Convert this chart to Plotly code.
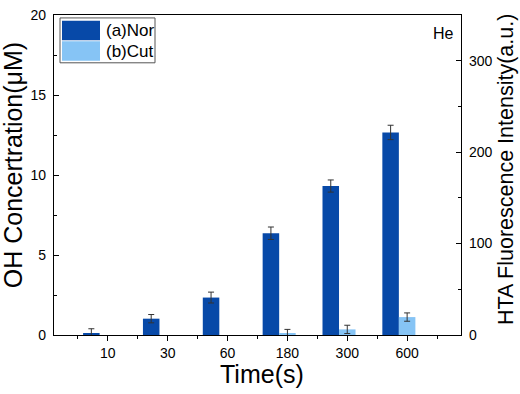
import plotly.graph_objects as go

# ---- data ----
categories = ["10", "30", "60", "180", "300", "600"]
nor_values = [0.12, 1.02, 2.34, 6.36, 9.31, 12.66]
nor_errors = [0.27, 0.26, 0.34, 0.39, 0.38, 0.45]
cut_values = [None, None, None, 0.10, 0.35, 1.12]
cut_errors = [None, None, None, 0.25, 0.26, 0.26]
series_names = ["(a)Nor", "(b)Cut"]

NOR_COLOR = "#0749A8"
CUT_COLOR = "#86C4F5"
FONT = "Liberation Sans, Arial, sans-serif"

positions = list(range(1, len(categories) + 1))

W, H = 520, 394
L, R, T, B = 54, 461, 7, 335  # plot area in pixels


def px(x):
    return (x - L) / (R - L)


def py(y):
    return (B - y) / (B - T)


fig = go.Figure()
fig.add_trace(go.Bar(
    x=positions, y=nor_values, name=series_names[0],
    width=0.276, offset=-0.414,
    marker=dict(color=NOR_COLOR, line=dict(width=0)),
    error_y=dict(type="data", array=nor_errors, color="#333333", thickness=1, width=3),
    showlegend=False,
))
fig.add_trace(go.Bar(
    x=positions, y=cut_values, name=series_names[1],
    width=0.276, offset=-0.138,
    marker=dict(color=CUT_COLOR, line=dict(width=0)),
    error_y=dict(type="data", array=cut_errors, color="#333333", thickness=1, width=3),
    showlegend=False,
))
# invisible trace to anchor the right axis
fig.add_trace(go.Scatter(x=[positions[0]], y=[0], yaxis="y2", mode="markers",
                         marker=dict(opacity=0), showlegend=False, hoverinfo="skip"))

axis_common = dict(showline=True, linecolor="black", linewidth=1.2, showgrid=False,
                   zeroline=False, tickcolor="black", ticklabeloverflow="allow",
                   tickfont=dict(family=FONT, size=14, color="black"))

fig.update_layout(
    width=W, height=H,
    margin=dict(l=L, r=W - R, t=T, b=H - B),
    paper_bgcolor="white", plot_bgcolor="white",
    barmode="overlay",
    font=dict(family=FONT, color="black"),
    xaxis=dict(**axis_common, range=[0.1, 6.9], tickmode="array",
               tickvals=positions, ticktext=categories,
               ticks="outside", ticklen=5, mirror=True,
               minor=dict(tickmode="linear", tick0=0.5, dtick=1, ticks="outside",
                          ticklen=3, tickcolor="black")),
    yaxis=dict(**axis_common, range=[0, 20], dtick=5, ticks="inside", ticklen=5,
               ticklabelstandoff=4,
               minor=dict(dtick=2.5, ticks="inside", ticklen=3, tickcolor="black")),
    yaxis2=dict(**axis_common, overlaying="y", side="right", range=[0, 350],
                dtick=100, ticks="inside", ticklen=5, ticklabelstandoff=4,
                minor=dict(dtick=50, ticks="inside", ticklen=3, tickcolor="black")),
)

# axis titles
fig.add_annotation(text="OH Concertration(μM)", xref="paper", yref="paper",
                   x=px(13), y=py(161), textangle=-90, showarrow=False,
                   font=dict(family=FONT, size=25, color="black"),
                   xanchor="center", yanchor="middle")
fig.add_annotation(text="HTA Fluorescence Intensity(a.u.)", xref="paper", yref="paper",
                   x=px(506), y=py(166), textangle=-90, showarrow=False,
                   font=dict(family=FONT, size=21.5, color="black"),
                   xanchor="center", yanchor="middle")
fig.add_annotation(text="Time(s)", xref="paper", yref="paper",
                   x=px(262), y=py(375), showarrow=False,
                   font=dict(family=FONT, size=25, color="black"),
                   xanchor="center", yanchor="middle")
fig.add_annotation(text="He", xref="paper", yref="paper",
                   x=px(443), y=py(26), showarrow=False,
                   font=dict(family=FONT, size=16, color="black"),
                   xanchor="center", yanchor="middle")

# custom legend
fig.add_shape(type="rect", xref="paper", yref="paper",
              x0=px(60), x1=px(155), y0=py(10), y1=py(56),
              line=dict(color="#555555", width=1), fillcolor="white", layer="above")
for i, (name, color) in enumerate(zip(series_names, [NOR_COLOR, CUT_COLOR])):
    y0 = 13 + i * 21
    fig.add_shape(type="rect", xref="paper", yref="paper",
                  x0=px(62), x1=px(100), y0=py(y0), y1=py(y0 + 20),
                  line=dict(width=0), fillcolor=color, layer="above")
    fig.add_annotation(text=name, xref="paper", yref="paper",
                       x=px(104), y=py(y0 + 10), showarrow=False,
                       font=dict(family=FONT, size=17, color="black"),
                       xanchor="left", yanchor="middle")

fig.write_html("out.html", config={"displayModeBar": False},
               post_script="document.body.style.margin='0';document.body.style.overflow='hidden';")
